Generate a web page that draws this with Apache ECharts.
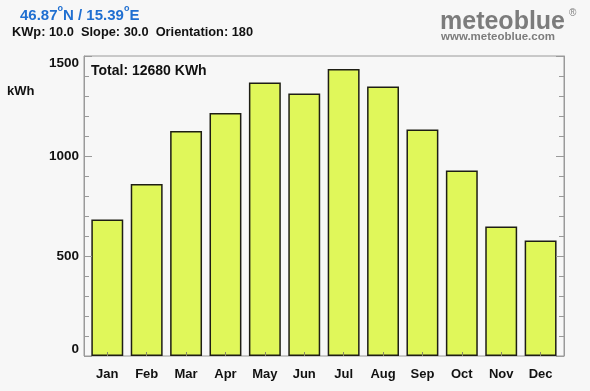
<!DOCTYPE html>
<html>
<head>
<meta charset="utf-8">
<script src="https://cdn.jsdelivr.net/npm/echarts@6/dist/echarts.min.js"></script>
<style>
html,body{margin:0;padding:0;background:#f7f7f7;}
#chart{width:590px;height:391px;}
</style>
</head>
<body>
<div id="chart"></div>
<script>
const categories = ['Jan','Feb','Mar','Apr','May','Jun','Jul','Aug','Sep','Oct','Nov','Dec'];
const energyKWh = [683, 860, 1125, 1215, 1367, 1312, 1435, 1348, 1133, 927, 647, 578];
const yTicks = [0, 500, 1000, 1500];
const totalText = 'Total: 12680 KWh';
const paramsText = 'KWp: 10.0  Slope: 30.0  Orientation: 180';

const FONT = '"Liberation Sans", Arial, Helvetica, sans-serif';
const chart = echarts.init(document.getElementById('chart'), null, {renderer: 'canvas'});
const AXIS_GRAY = '#9a9a9a';

const yAxisCommon = {
  type: 'value',
  gridIndex: 0,
  min: yTicks[0],
  max: yTicks[yTicks.length - 1],
  interval: 500,
  axisLine: {show: true, lineStyle: {color: AXIS_GRAY, width: 1}},
  axisTick: {show: true, inside: true, length: 8, lineStyle: {color: AXIS_GRAY}},
  minorTick: {show: true, splitNumber: 5, length: 5, lineStyle: {color: AXIS_GRAY}},
  splitLine: {show: false},
  z: 3
};

chart.setOption({
  backgroundColor: '#f7f7f7',
  animation: false,
  grid: [
    {left: 84, right: 26, top: 56, bottom: 35, show: true, borderColor: AXIS_GRAY, borderWidth: 1, backgroundColor: '#f7f7f7'},
    {left: 87.6, right: 29.7, top: 56, bottom: 35, show: false}
  ],
  xAxis: [
    {type: 'category', gridIndex: 0, data: categories, show: false},
    {
      type: 'category',
      gridIndex: 1,
      data: categories,
      axisLine: {show: false},
      axisTick: {show: true, inside: true, alignWithLabel: true, length: 4, lineStyle: {color: '#8a8a6a'}},
      axisLabel: {color: '#111', fontFamily: FONT, fontWeight: 'bold', fontSize: 13, margin: 12},
      z: 3
    }
  ],
  yAxis: [
    Object.assign({}, yAxisCommon, {
      position: 'left',
      axisLabel: {
        color: '#111', fontFamily: FONT, fontWeight: 'bold', fontSize: 13.5, margin: 5,
        formatter: v => String(v),
        verticalAlignMaxLabel: 'top',
        verticalAlignMinLabel: 'bottom'
      }
    }),
    Object.assign({}, yAxisCommon, {
      position: 'right',
      axisLabel: {show: false}
    }),
    {
      type: 'value', gridIndex: 1, min: yTicks[0], max: yTicks[yTicks.length - 1], show: false
    }
  ],
  series: [{
    type: 'bar',
    xAxisIndex: 1,
    yAxisIndex: 2,
    data: energyKWh,
    barCategoryGap: '19%',
    itemStyle: {color: '#e0f75a', borderColor: '#1e1e14', borderWidth: 1.5}
  }],
  graphic: [
    {
      type: 'text', left: 20, top: 4,
      style: {
        text: '{b|46.87}{s|o}{b|N / 15.39}{s|o}{b|E}',
        rich: {
          b: {fontFamily: FONT, fontWeight: 'bold', fontSize: 15, fill: '#1f6fd1', verticalAlign: 'bottom', lineHeight: 19},
          s: {fontFamily: FONT, fontWeight: 'bold', fontSize: 9, fill: '#1f6fd1', verticalAlign: 'top', lineHeight: 19, padding: [0, 0, 8, 0]}
        }
      }
    },
    {
      type: 'text', left: 12, top: 26,
      style: {text: paramsText, fontFamily: FONT, fontWeight: 'bold', fontSize: 12.8, fill: '#111'}
    },
    {
      type: 'text', left: 7, top: 85,
      style: {text: 'kWh', fontFamily: FONT, fontWeight: 'bold', fontSize: 13, fill: '#111'}
    },
    {
      type: 'text', left: 91, top: 64,
      style: {text: totalText, fontFamily: FONT, fontWeight: 'bold', fontSize: 14, fill: '#111'}
    },
    {
      type: 'text', left: 440, top: 10,
      style: {text: 'meteoblue', fontFamily: FONT, fontWeight: 'bold', fontSize: 25, fill: '#7c7c7c'}
    },
    {
      type: 'text', left: 569, top: 8,
      style: {text: '®', fontFamily: FONT, fontSize: 10, fill: '#7c7c7c'}
    },
    {
      type: 'text', left: 441, top: 31,
      style: {text: 'www.meteoblue.com', fontFamily: FONT, fontWeight: 'bold', fontSize: 11.5, fill: '#7c7c7c'}
    }
  ]
});
</script>
</body>
</html>
